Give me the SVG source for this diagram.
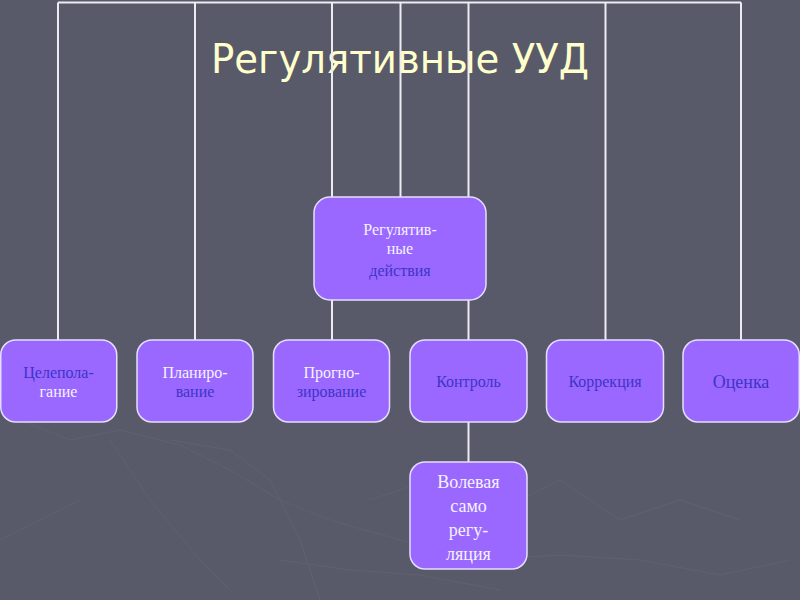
<svg xmlns="http://www.w3.org/2000/svg" width="800" height="600" viewBox="0 0 800 600">
<style>
.bg{fill:#585a69}
.con{stroke:#ececf2;stroke-width:2;fill:none}
.box{fill:#9a68ff;stroke:#e6ddff;stroke-width:1.5}
.t{font-family:"Liberation Serif","Times New Roman",serif;font-size:16px;text-anchor:middle}
.w{fill:#f4f2ff}
.b{fill:#3f34c8}
.title{font-family:"DejaVu Sans",Verdana,sans-serif;font-size:41px;fill:#ffffcc}
.tex{stroke:#64667a;stroke-width:1;fill:none}
</style>
<rect class="bg" x="0" y="0" width="800" height="600"/>
<g id="texture" opacity="0.6">
<path class="tex" d="M20 420 L70 440 L120 430 L180 445 L230 470 L280 500 L330 520 L400 540 L480 560 L560 555 L640 560 L720 575 L790 560"/>
<path class="tex" d="M110 440 L150 500 L200 560 L230 590"/>
<path class="tex" d="M170 440 L230 450 L270 480 L300 540 L320 600"/>
<path class="tex" d="M280 560 L350 570 L420 575 L500 590"/>
<path class="tex" d="M370 500 L430 480 L520 500 L560 480 L620 520 L680 500 L740 520"/>
<path class="tex" d="M0 540 L40 520 L80 500"/>
</g>
<g id="title">
<text class="title" x="211" y="73" textLength="378" lengthAdjust="spacingAndGlyphs">Регулятивные УУД</text>
</g>
<g id="connectors">
<path class="con" d="M58 2.5 H741"/>
<path class="con" d="M58 2.5 V340"/>
<path class="con" d="M195 2.5 V340"/>
<path class="con" d="M332 2.5 V340"/>
<path class="con" d="M400.5 2.5 V197"/>
<path class="con" d="M468.5 2.5 V340"/>
<path class="con" d="M605.5 2.5 V340"/>
<path class="con" d="M741 2.5 V340"/>
<path class="con" d="M468.5 422 V462"/>
</g>
<g id="n-center">
<rect class="box" x="314" y="197" width="172" height="103" rx="16"/>
<text class="t w" x="400" y="235">Регулятив-</text>
<text class="t w" x="400" y="254">ные</text>
<text class="t b" x="400" y="276">действия</text>
</g>
<g id="n1">
<rect class="box" x="0.75" y="340" width="116" height="82" rx="15"/>
<text class="t b" x="58.5" y="378">Целепола-</text>
<text class="t w" x="58.5" y="397">гание</text>
</g>
<g id="n2">
<rect class="box" x="137" y="340" width="116" height="82" rx="15"/>
<text class="t w" x="195" y="378">Планиро-</text>
<text class="t b" x="195" y="397">вание</text>
</g>
<g id="n3">
<rect class="box" x="273.5" y="340" width="116" height="82" rx="15"/>
<text class="t w" x="331.5" y="378">Прогно-</text>
<text class="t b" x="331.5" y="397">зирование</text>
</g>
<g id="n4">
<rect class="box" x="410" y="340" width="117" height="82" rx="15"/>
<text class="t b" x="468.5" y="387">Контроль</text>
</g>
<g id="n5">
<rect class="box" x="546.5" y="340" width="117" height="82" rx="15"/>
<text class="t b" x="605" y="387">Коррекция</text>
</g>
<g id="n6">
<rect class="box" x="683" y="340" width="116.25" height="82" rx="15"/>
<text class="t b" x="741" y="388" style="font-size:18px">Оценка</text>
</g>
<g id="n7">
<rect class="box" x="410" y="462" width="117" height="107" rx="15"/>
<text class="t w" x="468.5" y="488" style="font-size:18px">Волевая</text>
<text class="t w" x="468.5" y="512" style="font-size:18px">само</text>
<text class="t w" x="468.5" y="536" style="font-size:18px">регу-</text>
<text class="t w" x="468.5" y="560" style="font-size:18px">ляция</text>
</g>
</svg>
